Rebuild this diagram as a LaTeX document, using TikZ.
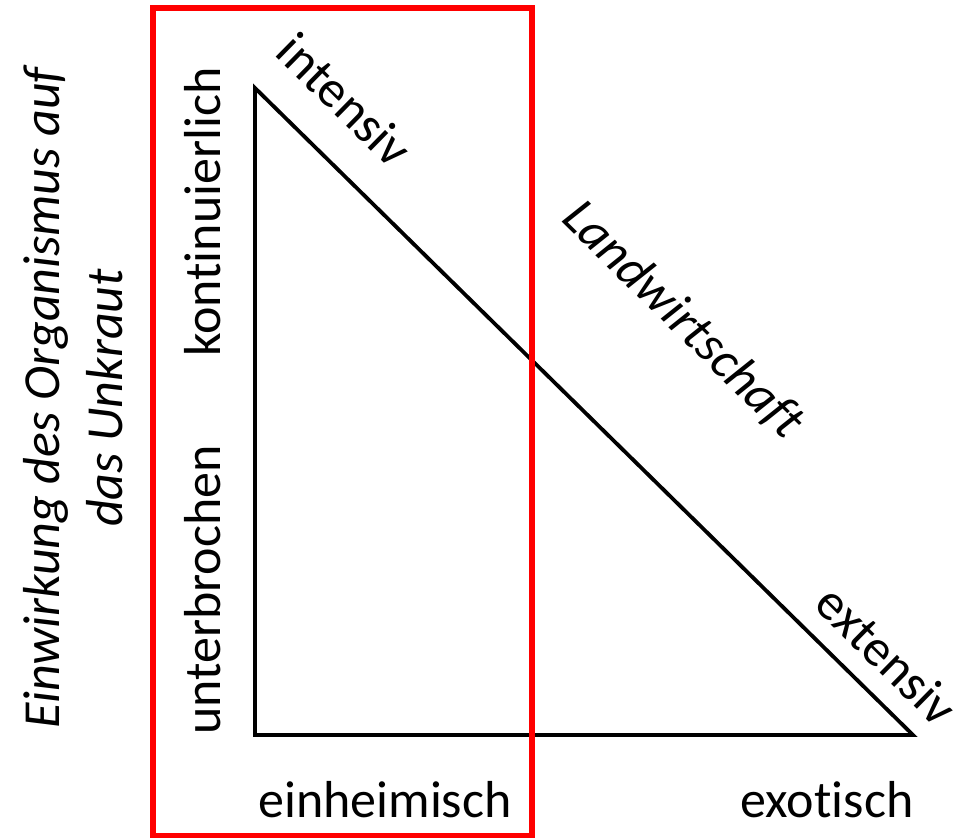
\documentclass[tikz,border=0pt]{standalone}
\usepackage{fontspec}
\setmainfont{Carlito}[Ligatures=NoCommon]
\usetikzlibrary{positioning}
\definecolor{frame}{HTML}{FF0000}
\definecolor{ink}{HTML}{000000}

\begin{document}
\begin{tikzpicture}[
  x=0.5pt,y=-0.5pt,
  font=\fontsize{26}{31}\selectfont,
  lbl/.style={text=ink,inner sep=0pt,anchor=center},
  slope/.style={lbl,rotate=-44.5},
  upright/.style={lbl,rotate=90}
]
\useasboundingbox (0,0) rectangle (957,838);
% the triangle
\coordinate (top) at (255,88);
\coordinate (corner) at (255,735);
\coordinate (tip) at (913,735);
\draw[ink,line width=1.9pt,line join=miter] (top) -- (corner) -- (tip) -- cycle;
% the frame
\draw[frame,line width=2.8pt] (153,8) rectangle (532,836);
% along the slope
\node[slope] (int) at (345,100) {intensiv};
\node[slope,font=\fontsize{26}{31}\selectfont\itshape] (lw) at (683,320) {Landwirtschaft};
\node[slope] (ext) at (887,655) {extensiv};
% the left side
\node[upright] (kont) at (203,212) {kontinuierlich};
\node[upright] (unt) at (203,590) {unterbrochen};
\node[upright,align=center,font=\fontsize{26}{31.5}\selectfont\itshape] (einw) at (73,398)
  {Einwirkung des Organismus auf\\das Unkraut};
% the bottom
\node[lbl] (einh) at (385,800) {einheimisch};
\node[lbl] (exo) at (827,800) {exotisch};
\end{tikzpicture}
\end{document}
